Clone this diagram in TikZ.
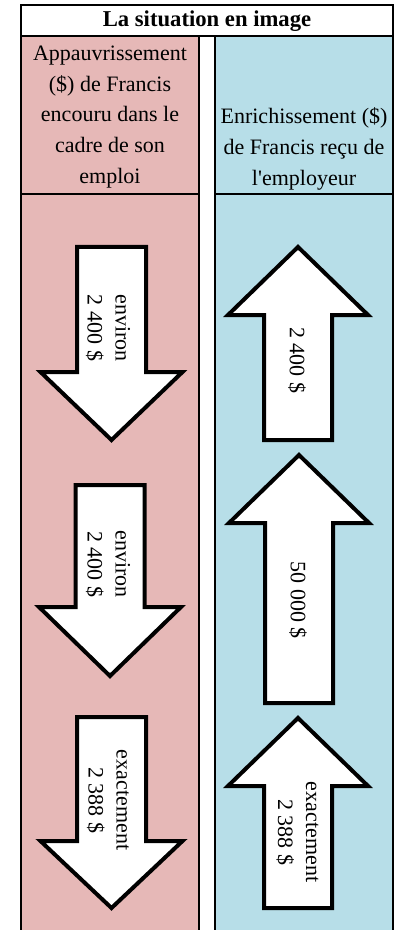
\documentclass[tikz,border=0pt]{standalone}
\usepackage{fontspec}
\setmainfont{Liberation Serif}
\usepackage{xcolor}
\usepackage{tikz}
\definecolor{appauv}{HTML}{E6B8B7}
\definecolor{enrich}{HTML}{B7DEE8}

\begin{document}
\begin{tikzpicture}[x=0.75pt,y=-0.75pt,font=\fontsize{16.5}{23}\selectfont,
  cadre/.style={draw=black,line width=1.5pt},
  bloc/.style={draw=black,fill=white,line width=3pt,line join=miter},
  valeur/.style={rotate=-90,align=center,font=\fontsize{16.5}{21}\selectfont}]
\useasboundingbox (0,0) rectangle (398,930);

\fill[appauv] (21,36) rectangle (199,930);
\fill[enrich] (214.5,36) rectangle (393,930);

\draw[cadre] (21,5.5) rectangle (393,36);
\foreach \x in {21,199,214.5,393}
  \draw[cadre] (\x,36) -- (\x,931);
\draw[cadre] (21,194) -- (199,194);
\draw[cadre] (214.5,194) -- (393,194);

\node[font=\bfseries\fontsize{17}{20}\selectfont] (titre) at (207,21) {La situation en image};
\node[align=center] (appauv) at (110,117) {Appauvrissement\\(\$) de Francis\\encouru dans le\\cadre de son\\emploi};
\node[align=center] (enrich) at (304,149) {Enrichissement (\$)\\de Francis reçu de\\l\textquotesingle employeur};

\foreach \cx/\ya/\yb/\yc in {111.5/247/372/440,110/485/607/676,111.5/717/841/908}
  \draw[bloc] (\cx-34.5,\ya) -- (\cx+34.5,\ya) -- (\cx+34.5,\yb) -- (\cx+71,\yb)
    -- (\cx,\yc) -- (\cx-71,\yb) -- (\cx-34.5,\yb) -- cycle;

\foreach \cx/\ya/\yb/\yc in {298/247/315/440,299/455/523/703,298/718/786/908}
  \draw[bloc] (\cx,\ya) -- (\cx+70,\yb) -- (\cx+34,\yb) -- (\cx+34,\yc)
    -- (\cx-34,\yc) -- (\cx-34,\yb) -- (\cx-70,\yb) -- cycle;

\node[valeur] (baisseA) at (108,328) {environ\\2 400 \$};
\node[valeur] (baisseB) at (108,564) {environ\\2 400 \$};
\node[valeur] (baisseC) at (108,800) {exactement\\2 388 \$};
\node[valeur] (hausseA) at (297,360) {2 400 \$};
\node[valeur] (hausseB) at (298,600) {50 000 \$};
\node[valeur] (hausseC) at (297.5,832) {exactement\\2 388 \$};
\end{tikzpicture}
\end{document}
